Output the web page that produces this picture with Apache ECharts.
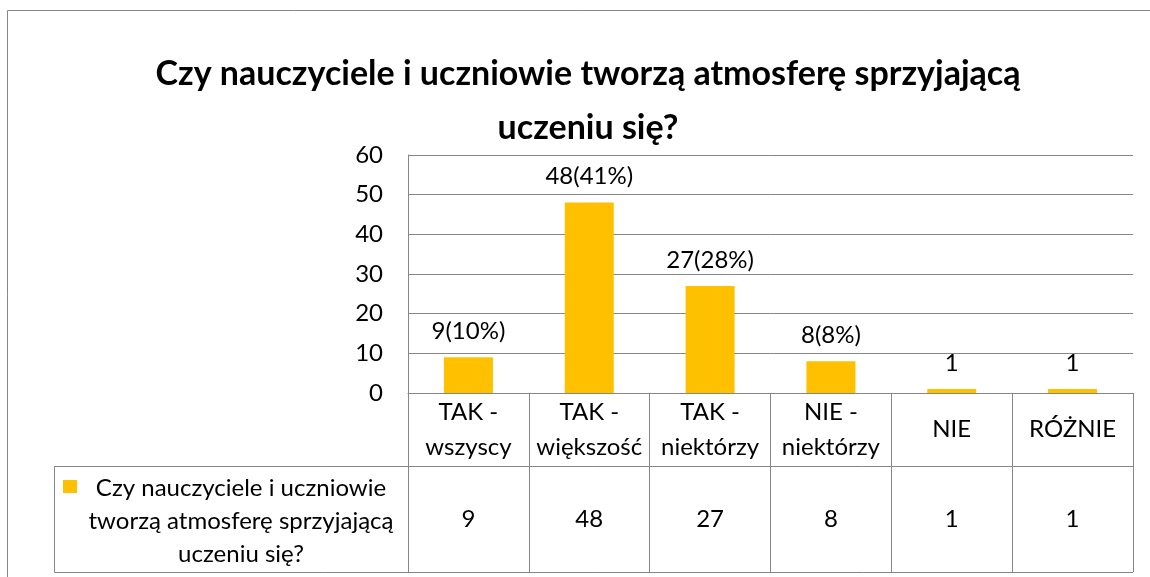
<!DOCTYPE html>
<html>
<head>
<meta charset="utf-8">
<script src="https://cdn.jsdelivr.net/npm/echarts@6/dist/echarts.min.js"></script>
<style>
  html, body { margin: 0; padding: 0; background: #fff; }
  #chart { width: 1150px; height: 577px; }
</style>
</head>
<body>
<div id="chart"></div>
<script>
// dane z wykresu
const categories = ['TAK -\nwszyscy', 'TAK -\nwiększość', 'TAK -\nniektórzy', 'NIE -\nniektórzy', 'NIE', 'RÓŻNIE'];
const values = [9, 48, 27, 8, 1, 1];
const barLabels = ['9(10%)', '48(41%)', '27(28%)', '8(8%)', '1', '1'];
const seriesName = 'Czy nauczyciele i uczniowie tworzą atmosferę sprzyjającą uczeniu się?';
const seriesNameLines = ['Czy nauczyciele i uczniowie', 'tworzą atmosferę sprzyjającą', 'uczeniu się?'];
const titleLines = ['Czy nauczyciele i uczniowie tworzą atmosferę sprzyjającą', 'uczeniu się?'];
const yTicks = { min: 0, max: 60, interval: 10 };

const FONT = 'Lato';
const LINE = '#868686';
const BAR = '#FFC000';
const FS = 24;

// uklad
const gridLeft = 408, gridRight = 1133, gridTop = 155, gridBottom = 393;
const headerBottom = 466, tableBottom = 572, legendLeft = 54;

const myChart = echarts.init(document.getElementById('chart'));

const option = {
  backgroundColor: '#fff',
  animation: false,
  textStyle: { fontFamily: FONT, color: '#000' },
  grid: {
    left: gridLeft,
    right: 1150 - gridRight,
    top: gridTop,
    bottom: 577 - gridBottom,
    containLabel: false
  },
  xAxis: [
    {
      type: 'category',
      data: categories,
      axisLine: { show: true, lineStyle: { color: LINE, width: 1 } },
      axisTick: { show: true, alignWithLabel: false, length: tableBottom - gridBottom, lineStyle: { color: LINE, width: 1 } },
      axisLabel: {
        interval: 0,
        margin: (headerBottom - gridBottom) / 2,
        verticalAlign: 'middle',
        fontFamily: FONT,
        fontSize: FS,
        lineHeight: 35,
        color: '#000'
      }
    },
    {
      type: 'category',
      position: 'bottom',
      data: categories,
      axisLine: { show: false },
      axisTick: { show: false },
      axisLabel: {
        interval: 0,
        margin: (headerBottom + tableBottom) / 2 - gridBottom,
        verticalAlign: 'middle',
        fontFamily: FONT,
        fontSize: FS,
        color: '#000',
        formatter: (v, i) => String(values[i])
      }
    }
  ],
  yAxis: {
    type: 'value',
    min: yTicks.min,
    max: yTicks.max,
    interval: yTicks.interval,
    axisLine: { show: true, lineStyle: { color: LINE, width: 1 } },
    axisTick: { show: false },
    splitLine: { show: true, lineStyle: { color: LINE, width: 1 } },
    axisLabel: { margin: 25, fontFamily: FONT, fontSize: FS, color: '#000' }
  },
  series: [
    {
      name: seriesName,
      type: 'bar',
      data: values,
      barWidth: 49,
      itemStyle: { color: BAR },
      label: {
        show: true,
        position: 'top',
        distance: 14,
        fontFamily: FONT,
        fontSize: FS,
        color: '#000',
        formatter: (p) => barLabels[p.dataIndex]
      }
    }
  ],
  graphic: [
    // ramka calego wykresu
    { type: 'rect', shape: { x: 7.5, y: 10.5, width: 1200, height: 700 }, style: { fill: 'none', stroke: LINE, lineWidth: 1 }, silent: true },
    // tytul
    {
      type: 'text',
      x: 588,
      y: 101,
      style: {
        text: titleLines.join('\n'),
        fontFamily: FONT,
        fontWeight: 'bold',
        fontSize: 34,
        lineHeight: 54,
        fill: '#000',
        align: 'center',
        verticalAlign: 'middle'
      }
    },
    // linie tabeli danych
    { type: 'polyline', shape: { points: [[legendLeft, headerBottom + 0.5], [gridRight, headerBottom + 0.5]] }, style: { stroke: LINE, lineWidth: 1, fill: 'none' } },
    { type: 'polyline', shape: { points: [[legendLeft + 0.5, headerBottom], [legendLeft + 0.5, tableBottom + 0.5], [gridRight, tableBottom + 0.5]] }, style: { stroke: LINE, lineWidth: 1, fill: 'none' } },
    // klucz legendy
    { type: 'rect', shape: { x: 63, y: 480, width: 14, height: 13 }, style: { fill: BAR } },
    {
      type: 'text',
      x: 241,
      y: 521,
      style: {
        text: seriesNameLines.join('\n'),
        fontFamily: FONT,
        fontSize: FS,
        lineHeight: 33,
        fill: '#000',
        align: 'center',
        verticalAlign: 'middle'
      }
    }
  ]
};

myChart.setOption(option);
</script>
</body>
</html>
